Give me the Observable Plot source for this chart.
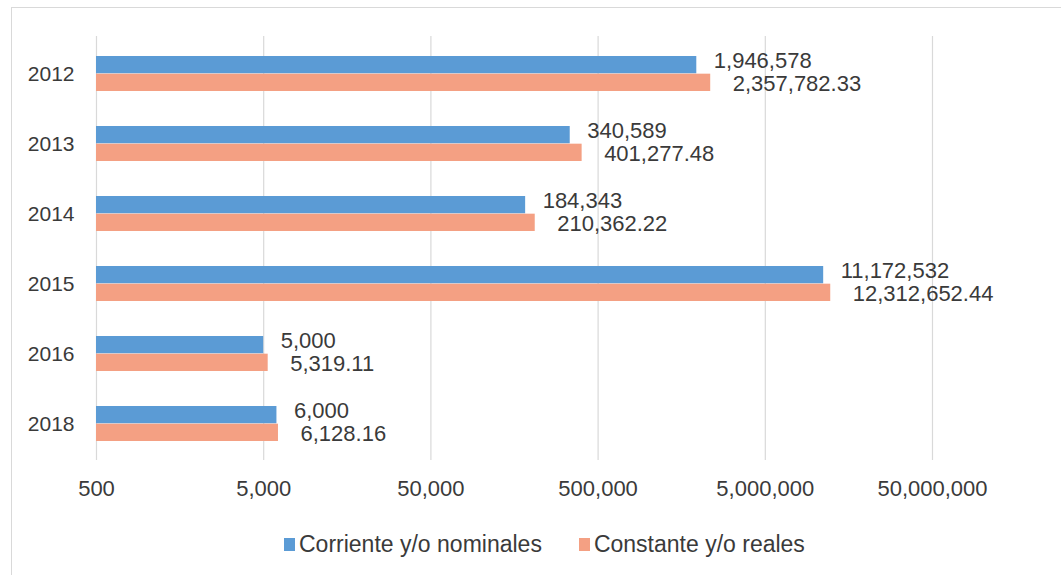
<!DOCTYPE html>
<html>
<head>
<meta charset="utf-8">
<script src="https://cdn.jsdelivr.net/npm/d3@7"></script>
<script src="https://cdn.jsdelivr.net/npm/@observablehq/plot@0.6"></script>
<style>
  body { margin: 0; background: #fff; font-family: "Liberation Sans", Arial, sans-serif; }
  #wrap { position: relative; width: 1061px; height: 575px; overflow: hidden; }
  #frame { position: absolute; left: 11px; top: 7px; width: 1100px; height: 600px;
           border-top: 1px solid #d9d9d9; border-left: 1px solid #d9d9d9; }
  #chart { position: absolute; left: 0; top: 0; }
  #legend { position: absolute; left: 284px; top: 531px; display: flex; align-items: center;
            font-size: 23px; color: #3a3a3a; white-space: nowrap; }
  .item { display: flex; align-items: center; margin-right: 37px; }
  .sw { display: inline-block; width: 11px; height: 13px; margin-right: 4px; }
</style>
</head>
<body>
<div id="wrap">
  <div id="frame"></div>
  <div id="chart"></div>
  <div id="legend"></div>
</div>
<script>
const years = ["2012", "2013", "2014", "2015", "2016", "2018"];
const series = ["Corriente y/o nominales", "Constante y/o reales"];
const corriente = [1946578, 340589, 184343, 11172532, 5000, 6000];
const constante = [2357782.33, 401277.48, 210362.22, 12312652.44, 5319.11, 6128.16];
const xTicks = [500, 5000, 50000, 500000, 5000000, 50000000];
const colors = ["#5b9bd5", "#f4a083"];

const fmtInt = d3.format(",");
const fmtDec = d3.format(",.2f");
const textColor = "#3a3a3a";

const blueRows = years.map((y, i) => ({year: y, value: corriente[i], label: fmtInt(corriente[i])}));
const orangeRows = years.map((y, i) => ({year: y, value: constante[i], label: fmtDec(constante[i])}));

const half = 17.67;

const chart = Plot.plot({
  width: 1061,
  height: 510,
  marginLeft: 96,
  marginRight: 129,
  marginTop: 36,
  marginBottom: 50,
  style: {fontFamily: '"Liberation Sans", Arial, sans-serif', color: textColor, background: "transparent"},
  x: {type: "log", domain: [xTicks[0], xTicks[xTicks.length - 1]], label: null, axis: null},
  y: {domain: years, paddingInner: 0.5, paddingOuter: 0.25, label: null},
  marks: [
    Plot.gridX(xTicks, {stroke: "#d9d9d9", strokeOpacity: 1, strokeWidth: 1.2}),
    Plot.barX(blueRows, {x1: () => xTicks[0], x2: "value", y: "year", fill: colors[0], insetBottom: half}),
    Plot.barX(orangeRows, {x1: () => xTicks[0], x2: "value", y: "year", fill: colors[1], insetTop: half}),
    Plot.text(blueRows, {x: "value", y: "year", text: "label", textAnchor: "start", dx: 17, dy: -13, fontSize: 22, fill: textColor}),
    Plot.text(orangeRows, {x: "value", y: "year", text: "label", textAnchor: "start", dx: 22, dy: 10, fontSize: 22, fill: textColor}),
    Plot.text(xTicks, {x: d => d, frameAnchor: "bottom", dy: 35, text: d => fmtInt(d), fontSize: 22, fill: textColor}),
    Plot.axisY({tickSize: 0, tickPadding: 22, fontSize: 21, label: null})
  ]
});
document.getElementById("chart").appendChild(chart);

const legend = document.getElementById("legend");
series.forEach((s, i) => {
  const item = document.createElement("div");
  item.className = "item";
  const sw = document.createElement("span");
  sw.className = "sw";
  sw.style.background = colors[i];
  const t = document.createElement("span");
  t.textContent = s;
  item.appendChild(sw);
  item.appendChild(t);
  legend.appendChild(item);
});
</script>
</body>
</html>
